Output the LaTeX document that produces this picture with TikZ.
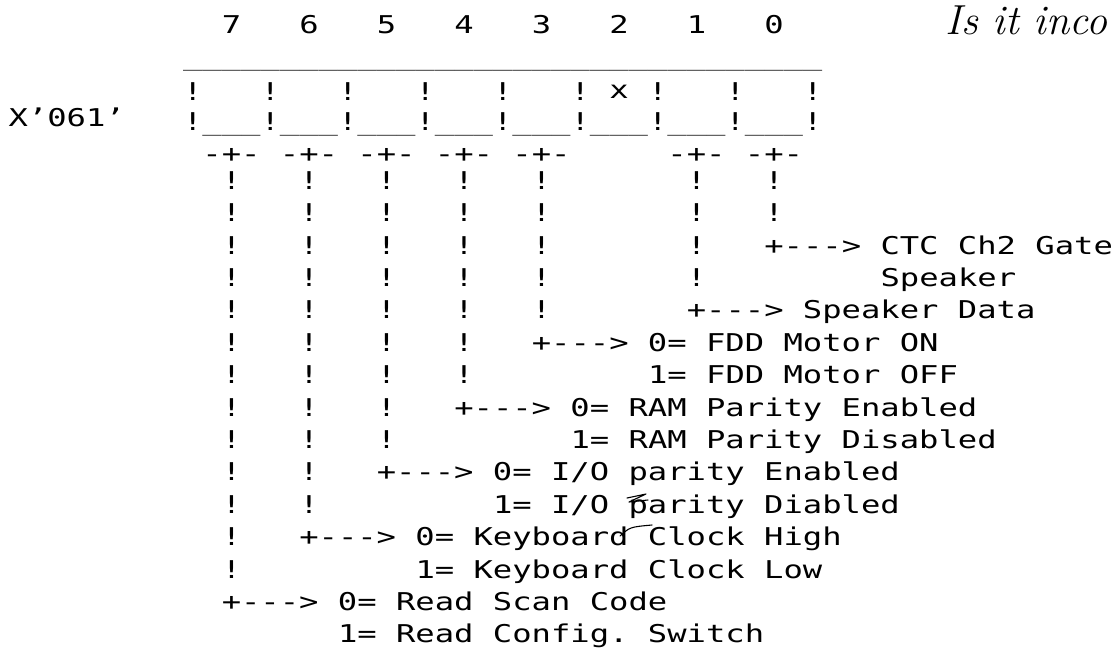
\documentclass[tikz,border=0pt]{standalone}
\usepackage{fontspec}
\setmonofont[FakeStretch=1.3135]{DejaVu Sans Mono}
\newcommand\uu{\char95\relax}
\newcommand\cx[1]{8.625+19.375*(#1)}
\newcommand\rb[1]{254+32.4*((#1)-7)}
\newcommand\mfont{\ttfamily\fontsize{24.5}{30}\selectfont\spaceskip=19.375pt\relax}
\begin{document}
\begin{tikzpicture}[x=1pt,y=-1pt,
  txt/.style={anchor=base west,inner sep=0pt,outer sep=0pt,font=\mfont},
  rule/.style={txt,text=black!80},
  pen/.style={line width=1.1pt,line cap=round,line join=round}]
\useasboundingbox (0,0) rectangle (1118,648);
\fill[white] (0,0) rectangle (1118,648);
% bit numbers
\foreach \b in {7,6,5,4,3,2,1,0}{
  \node[txt] (d\b) at ({\cx{11+4*(7-\b)}},33) {\b};
}
% register box
\node[rule] (toprule) at ({\cx{9}},65) {\uu\uu\uu\uu\uu\uu\uu\uu\uu\uu\uu\uu\uu\uu\uu\uu\uu\uu\uu\uu\uu\uu\uu\uu\uu\uu\uu\uu\uu\uu\uu\uu\uu};
\foreach \k in {0,...,8}{
  \node[txt] (bu\k) at ({\cx{9+4*\k}},100) {!};
  \node[txt] (bl\k) at ({\cx{9+4*\k}},130) {!};
}
\foreach \k in {0,...,7}{
  \node[rule] (us\k) at ({\cx{10+4*\k}},130) {\uu\uu\uu};
}
\node[txt] (xmark) at ({\cx{31}},98) {x};
\node[txt] (addr) at ({\cx{0}},126) {X’061’};
% taps
\foreach \b in {7,6,5,4,3,1,0}{
  \node[txt] (t\b) at ({\cx{10+4*(7-\b)}},162) {-+-};
}
% vertical strokes
\foreach \b/\last in {7/17,6/15,5/13,4/11,3/9,1/8,0/6}{
  \foreach \r in {5,...,\last}{
    \node[txt] (v\b-\r) at ({\cx{11+4*(7-\b)}},{\rb{\r}}) {!};
  }
}
% descriptions
\node[txt] (l0a) at ({\cx{39}},{\rb{7}}) {+--->\ CTC Ch2 Gate};
\node[txt] (l0b) at ({\cx{45}},{\rb{8}}) {Speaker};
\node[txt] (l1a) at ({\cx{35}},{\rb{9}}) {+--->\ Speaker Data};
\node[txt] (l3a) at ({\cx{27}},{\rb{10}}) {+--->\ 0=\ FDD Motor ON};
\node[txt] (l3b) at ({\cx{33}},{\rb{11}}) {1=\ FDD Motor OFF};
\node[txt] (l4a) at ({\cx{23}},{\rb{12}}) {+--->\ 0=\ RAM Parity Enabled};
\node[txt] (l4b) at ({\cx{29}},{\rb{13}}) {1=\ RAM Parity Disabled};
\node[txt] (l5a) at ({\cx{19}},{\rb{14}}) {+--->\ 0=\ I/O parity Enabled};
\node[txt] (l5b) at ({\cx{25}},{\rb{15}}) {1=\ I/O parity Diabled};
\node[txt] (l6a) at ({\cx{15}},{\rb{16}}) {+--->\ 0=\ Keyboard Clock High};
\node[txt] (l6b) at ({\cx{21}},{\rb{17}}) {1=\ Keyboard Clock Low};
\node[txt] (l7a) at ({\cx{11}},{\rb{18}}) {+--->\ 0=\ Read Scan Code};
\node[txt] (l7b) at ({\cx{17}},{\rb{19}}) {1=\ Read Config. Switch};
% handwritten note and pen marks
\node[anchor=base west,inner sep=0pt,font=\fontsize{42}{42}\selectfont\itshape] (note) at (945,34) {Is it inco};
\draw[pen] (627,498) -- (646,494) -- (629,502) -- (648,500);
\draw[pen] (620,536) .. controls (630,527) .. (652,525);
\end{tikzpicture}
\end{document}
